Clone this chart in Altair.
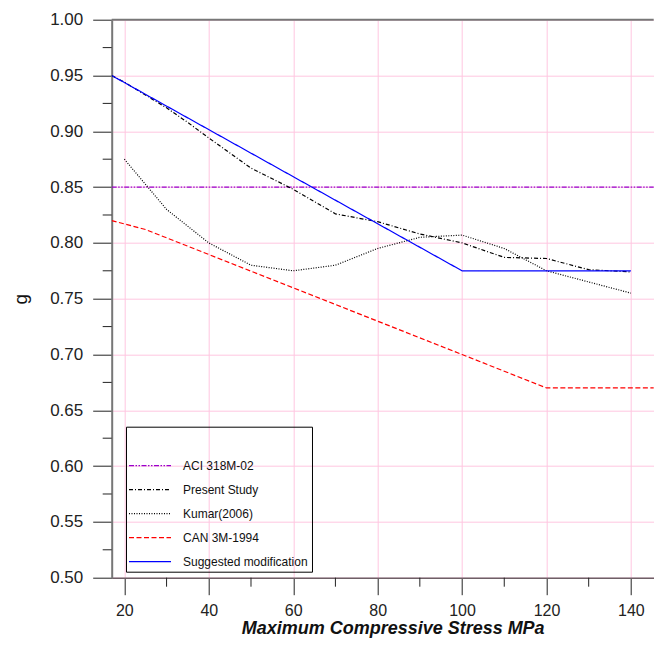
import altair as alt
import pandas as pd

# ---- data ----
series = ["ACI 318M-02", "Present Study", "Kumar(2006)", "CAN 3M-1994", "Suggested modification"]

aci_x = [17, 150]
aci_y = [0.85, 0.85]

present_x = [17, 20, 30, 35, 40, 50, 60, 70, 80, 90, 100, 110, 120, 130, 140]
present_y = [0.950, 0.944, 0.921, 0.908, 0.894, 0.867, 0.848, 0.826, 0.819, 0.808, 0.800, 0.787, 0.786, 0.776, 0.774]

kumar_x = [20, 30, 40, 50, 60, 70, 80, 90, 100, 110, 120, 130, 140]
kumar_y = [0.875, 0.830, 0.800, 0.780, 0.775, 0.780, 0.795, 0.805, 0.807, 0.795, 0.775, 0.765, 0.755]

can_x = [17, 25, 100, 120, 150]
can_y = [0.820, 0.812, 0.700, 0.670, 0.670]

sug_x = [17, 100, 140]
sug_y = [0.950, 0.775, 0.775]

x_major = [20, 40, 60, 80, 100, 120, 140]
x_minor = [30, 50, 70, 90, 110, 130]
y_major = [0.50, 0.55, 0.60, 0.65, 0.70, 0.75, 0.80, 0.85, 0.90, 0.95, 1.00]
y_minor = [0.525, 0.575, 0.625, 0.675, 0.725, 0.775, 0.825, 0.875, 0.925, 0.975]
top_edge = [1.0]

colors = ["#9900cc", "#000000", "#000000", "#ff0000", "#0000ff"]
dashes = [[5, 1.5, 1.5, 1.5, 1.5, 1.5], [4, 2, 1, 2], [1, 1.5], [5, 2.5], [1, 0]]
widths = [1.2, 1.2, 1.2, 1.2, 1.6]

rows = []
for name, xs, ys in zip(series, [aci_x, present_x, kumar_x, can_x, sug_x],
                        [aci_y, present_y, kumar_y, can_y, sug_y]):
    for xv, yv in zip(xs, ys):
        rows.append({"series": name, "x": xv, "y": yv})
df = pd.DataFrame(rows)

FONT = "Liberation Sans"
W, H = 542, 558

xscale = alt.Scale(domain=[17, 145.4], nice=False, zero=False)
yscale = alt.Scale(domain=[0.5, 1.0], nice=False, zero=False)

xaxis = alt.Axis(values=x_major, tickSize=17, tickColor="#222", tickWidth=1,
                 labelFontSize=16, labelFont=FONT, labelColor="#222", labelPadding=8,
                 labelFlush=False,
                 domainColor="#6e5f66", domainWidth=1.5,
                 grid=True, gridColor="#ffc6e0", gridWidth=1,
                 title="Maximum Compressive Stress MPa", titleFont=FONT, titleFontSize=18,
                 titleFontWeight="bold", titleFontStyle="italic", titleColor="#111",
                 titlePadding=1, titleX=281)
yaxis = alt.Axis(values=y_major, format=".2f", tickSize=19, tickColor="#222", tickWidth=1,
                 labelFontSize=17, labelFont=FONT, labelColor="#222", labelPadding=10,
                 domainColor="#777", domainWidth=2,
                 grid=True, gridColor="#ffc6e0", gridWidth=1,
                 title="g", titleFont=FONT, titleFontSize=19, titleFontWeight="normal",
                 titleColor="#111", titlePadding=19)

leg = alt.Legend(orient="none", legendX=14.3, legendY=407, title=" ",
                 titleFontSize=14, titlePadding=13, padding=4, rowPadding=10,
                 symbolType="M-3,0L3,0", symbolSize=196, symbolOffset=12,
                 labelOffset=25, labelFontSize=12, labelFont=FONT, labelColor="#111",
                 labelLimit=300, strokeColor="#000", fillColor="transparent")

lines = alt.Chart(df).mark_line(clip=True).encode(
    x=alt.X("x:Q", scale=xscale, axis=xaxis),
    y=alt.Y("y:Q", scale=yscale, axis=yaxis),
    color=alt.Color("series:N", scale=alt.Scale(domain=series, range=colors), legend=leg),
    strokeDash=alt.StrokeDash("series:N", scale=alt.Scale(domain=series, range=dashes), legend=leg),
    strokeWidth=alt.StrokeWidth("series:N", scale=alt.Scale(domain=series, range=widths), legend=leg),
    detail="series:N",
)

top = alt.Chart(pd.DataFrame({"y": top_edge})).mark_rule(color="#777", strokeWidth=2).encode(
    y=alt.Y("y:Q", scale=yscale, axis=yaxis)
)

ymin = alt.Chart(pd.DataFrame({"y": y_minor})).mark_rule(color="#222", strokeWidth=1).encode(
    y=alt.Y("y:Q", scale=yscale, axis=yaxis),
    x=alt.value(-9), x2=alt.value(0)
)

xmin = alt.Chart(pd.DataFrame({"x": x_minor})).mark_rule(color="#222", strokeWidth=1).encode(
    x=alt.X("x:Q", scale=xscale, axis=xaxis),
    y=alt.value(H), y2=alt.value(H + 9)
)

chart = alt.layer(top, lines, ymin, xmin).properties(
    width=W, height=H,
    autosize=alt.AutoSizeParams(type="none"),
    padding={"left": 103.7, "top": 11.7, "right": 0, "bottom": 66},
    background="white",
).configure_view(stroke=None)

chart.save("out.html", embed_options={"renderer": "svg", "actions": False})
